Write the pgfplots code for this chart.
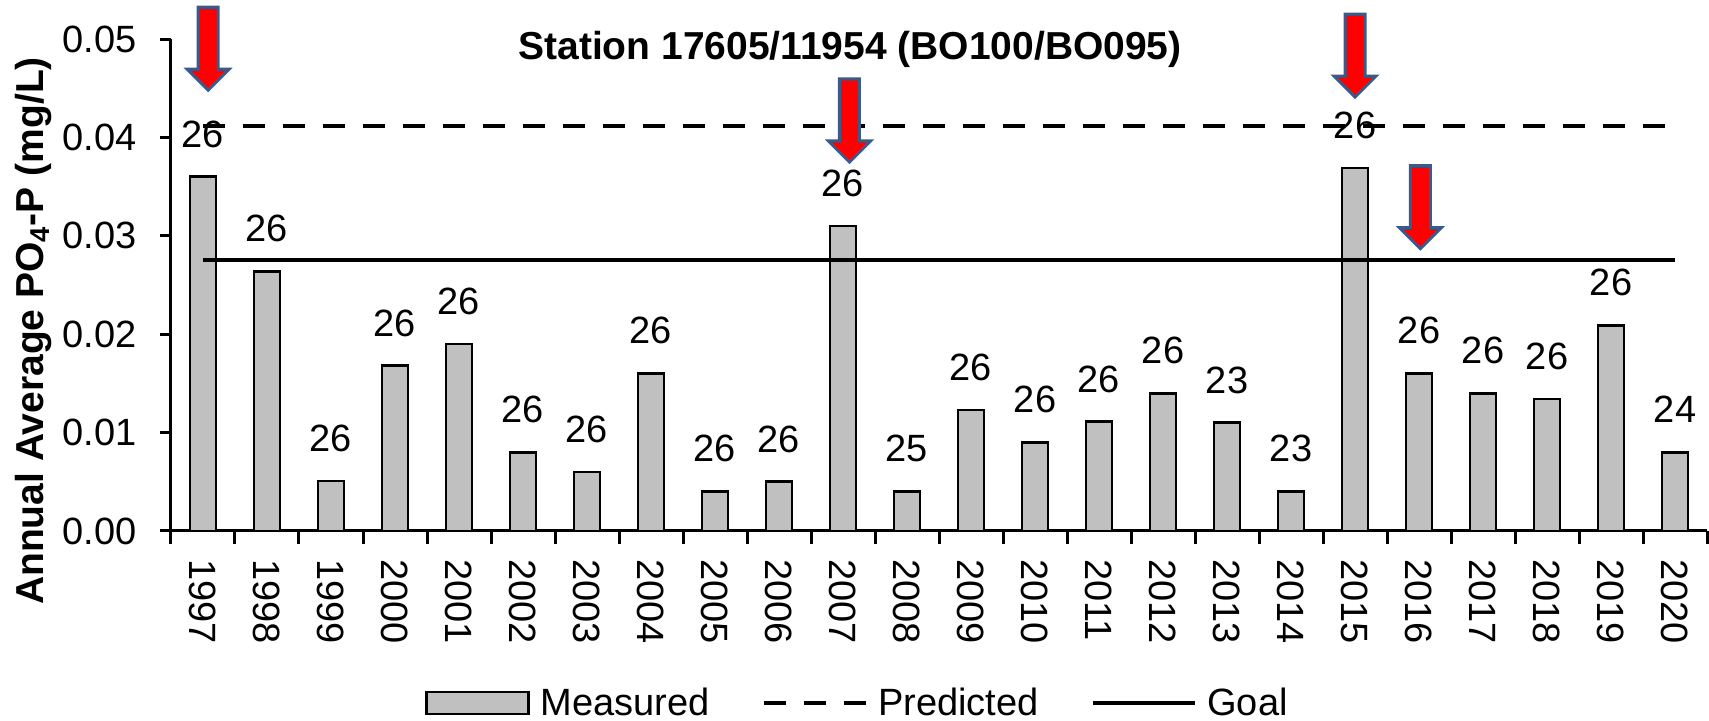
\documentclass[border=0pt]{standalone}
\usepackage{fontspec}
\setmainfont{Liberation Sans}
\usepackage{pgfplots}
\usepackage{pgfplotstable}
\pgfplotsset{compat=1.18}
\definecolor{barg}{RGB}{192,192,192}
\definecolor{arrblue}{RGB}{59,90,140}
\definecolor{arrred}{RGB}{255,0,0}
\pgfplotstableread{
x y n
0 0.0360 26
1 0.0264 26
2 0.0051 26
3 0.0168 26
4 0.0190 26
5 0.0080 26
6 0.0060 26
7 0.0160 26
8 0.0040 26
9 0.0050 26
10 0.0310 26
11 0.0040 25
12 0.0123 26
13 0.0090 26
14 0.0111 26
15 0.0140 26
16 0.0110 23
17 0.0040 23
18 0.0369 26
19 0.0160 26
20 0.0140 26
21 0.0134 26
22 0.0209 26
23 0.0080 24
}\measured
\pgfplotsset{
  barlegend/.style={legend image code/.code={\draw[fill=barg, draw=black, line width=1.3pt] (0pt,-5.5pt) rectangle (51pt,5.5pt);}},
  dashlegend/.style={legend image code/.code={\draw[black, line width=2pt, dash pattern=on 11pt off 9pt] (0pt,0pt) -- (51pt,0pt);}},
  solidlegend/.style={legend image code/.code={\draw[black, line width=2pt] (0pt,0pt) -- (51pt,0pt);}},
}
\newcommand{\downarrowmark}[2]{%
  \draw[arrblue, line width=1.5pt, fill=arrred, line join=miter]
    (axis cs:#1,#2) -- ++(-10.5pt,10.5pt) -- ++(5.5pt,0pt) -- ++(0pt,31pt)
    -- ++(10pt,0pt) -- ++(0pt,-31pt) -- ++(5.5pt,0pt) -- cycle;}
\begin{document}
\begin{tikzpicture}
\begin{axis}[
  at={(0pt,0pt)}, anchor=south west,
  width=768pt, height=246pt, scale only axis,
  xmin=-0.5, xmax=23.5, ymin=0, ymax=0.05,
  clip=false,
  axis x line*=bottom, axis y line*=left,
  axis line style={-, line width=1.5pt, black},
  tick align=outside,
  xtick={0,...,23},
  xticklabels={1997,1998,1999,2000,2001,2002,2003,2004,2005,2006,2007,2008,2009,2010,2011,2012,2013,2014,2015,2016,2017,2018,2019,2020},
  major x tick style={draw=none},
  minor xtick={-0.5,0.5,...,23.5},
  minor tick length=6.5pt,
  minor x tick style={line width=1.5pt, black},
  ytick={0,0.01,0.02,0.03,0.04,0.05},
  major tick length=5.5pt,
  major y tick style={line width=1.5pt, black},
  yticklabel style={/pgf/number format/fixed, /pgf/number format/fixed zerofill, /pgf/number format/precision=2, font=\fontsize{19}{22}\selectfont, inner sep=0pt, anchor=east},
  /pgf/number format/assume math mode=true,
  scaled y ticks=false,
  yticklabel shift=11.5pt,
  xticklabel style={rotate=-90, anchor=west, inner sep=0pt, font=\fontsize{19}{22}\selectfont},
  xticklabel shift=8.5pt,
  ylabel={\textbf{Annual Average PO$_{\mathbf{4}}$-P (mg/L)}},
  ylabel style={at={(axis description cs:-0.0833,0.4065)}, anchor=base, font=\fontsize{19.5}{22}\selectfont\bfseries},
  legend columns=3,
  legend style={at={(axis description cs:0.1654,-0.3496)}, anchor=west, draw=none, fill=none, inner sep=0pt,
    font=\fontsize{19}{22}\selectfont, legend cell align=left,
    /tikz/every odd column/.append style={column sep=3.3pt},
    /tikz/every even column/.append style={column sep=24pt}},
]
\addplot[ybar, bar width=13pt, bar shift=0pt, fill=barg, draw=black, line width=1.3pt,
  point meta=explicit symbolic,
  nodes near coords,
  every node near coord/.append style={anchor=south, inner sep=0pt, yshift=14pt, font=\fontsize{19}{22}\selectfont, black},
  barlegend
] table[x=x, y=y, meta=n] {\measured};
\addlegendentry{Measured}
\addplot[black, line width=2pt, dash pattern=on 11pt off 9pt, no markers, dashlegend]
  coordinates {(0,0.0412) (23,0.0412)};
\addlegendentry{Predicted}
\addplot[black, line width=2pt, no markers, solidlegend]
  coordinates {(0,0.0275) (23,0.0275)};
\addlegendentry{Goal}
\node[font=\fontsize{19.5}{22}\selectfont\bfseries, anchor=center] at (axis cs:10.11,0.0489) {Station 17605/11954 (BO100/BO095)};
\downarrowmark{0.08}{0.0448}
\downarrowmark{10.1}{0.0375}
\downarrowmark{18.0}{0.0441}
\downarrowmark{19.02}{0.0287}
\end{axis}
\pgfresetboundingbox
\path (-85.5pt,-95pt) rectangle (769pt,265.5pt);
\end{tikzpicture}
\end{document}
